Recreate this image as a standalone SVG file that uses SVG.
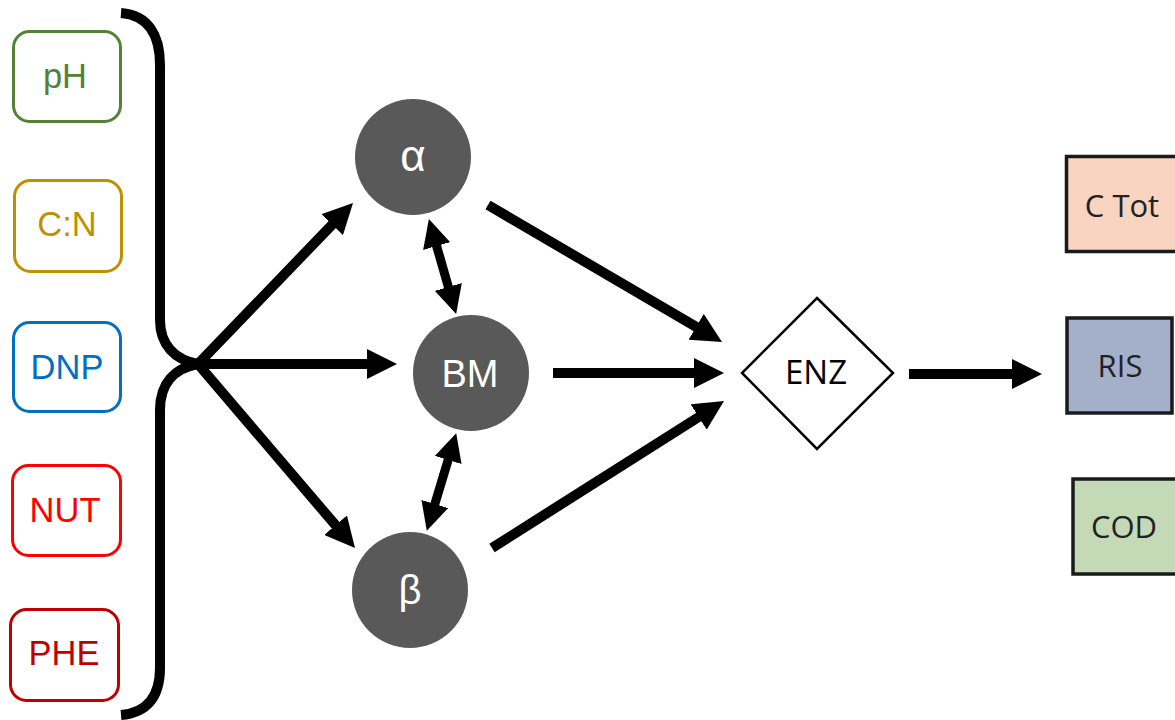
<svg xmlns="http://www.w3.org/2000/svg" width="1175" height="720" viewBox="0 0 1175 720">
<style>
.box{fill:#fff;stroke-width:3}
.lt{font-family:"Liberation Sans",Arial,sans-serif;font-size:34.5px;text-anchor:middle}
.circ{fill:#595959}
.ct{font-family:"Liberation Sans",Arial,sans-serif;fill:#fff;text-anchor:middle}
.rbox{stroke:#1a1a1a;stroke-width:3.5}
.rt{font-family:"Open Sans",sans-serif;font-size:31px;fill:#222;text-anchor:middle}
.conn{stroke:#000;stroke-width:10;fill:none}
.dbl{stroke:#000;stroke-width:9;fill:none}
</style>
<defs>
<marker id="ah" markerUnits="userSpaceOnUse" viewBox="0 0 30 30" markerWidth="30" markerHeight="30" refX="12" refY="15" orient="auto">
<path d="M0,0 L30,15 L0,30 z" fill="#000"/>
</marker>
<marker id="ah2" markerUnits="userSpaceOnUse" viewBox="0 0 28 28" markerWidth="28" markerHeight="28" refX="12" refY="14" orient="auto-start-reverse">
<path d="M0,0 L28,14 L0,28 z" fill="#000"/>
</marker>
</defs>

<g id="brace">
<path d="M121,13 C148,15 160,35 160,65 L160,320 C160,345 175,360 198,364 C175,368 160,383 160,410 L160,668 C160,698 146,713 121,715" fill="none" stroke="#000" stroke-width="10"/>
</g>

<g id="node-pH">
<rect class="box" x="13.5" y="31.5" width="107" height="90" rx="16" stroke="#548235"/>
<text class="lt" x="65" y="88" fill="#548235">pH</text>
</g>
<g id="node-CN">
<rect class="box" x="14.5" y="180.5" width="107" height="91" rx="16" stroke="#bf9000"/>
<text class="lt" x="67" y="236" fill="#bf9000">C:N</text>
</g>
<g id="node-DNP">
<rect class="box" x="13.5" y="322.5" width="107" height="89" rx="16" stroke="#0070c0"/>
<text class="lt" x="67" y="379" fill="#0070c0">DNP</text>
</g>
<g id="node-NUT">
<rect class="box" x="12.5" y="465.5" width="108" height="90" rx="16" stroke="#ff0000"/>
<text class="lt" x="65" y="522" fill="#ff0000">NUT</text>
</g>
<g id="node-PHE">
<rect class="box" x="10.5" y="609.5" width="108" height="91" rx="16" stroke="#c00000"/>
<text class="lt" x="64" y="665" fill="#c00000">PHE</text>
</g>

<g id="node-alpha">
<circle class="circ" cx="413" cy="157" r="58"/>
<text class="ct" x="413" y="171" font-size="44">α</text>
</g>
<g id="node-BM">
<circle class="circ" cx="471" cy="373" r="58"/>
<text class="ct" x="470" y="387" font-size="38">BM</text>
</g>
<g id="node-beta">
<circle class="circ" cx="410" cy="590" r="58"/>
<text class="ct" x="410" y="604" font-size="40">β</text>
</g>

<g id="node-ENZ">
<polygon points="817,298 893,373 817,449 742,373" fill="#fff" stroke="#000" stroke-width="2.5"/>
<text x="816" y="384" font-family="'Open Sans',sans-serif" font-size="33" fill="#000" text-anchor="middle">ENZ</text>
</g>

<g id="node-CTot">
<rect class="rbox" x="1066.5" y="156.5" width="120" height="95" fill="#f8d4c1"/>
<text class="rt" x="1122" y="217">C Tot</text>
</g>
<g id="node-RIS">
<rect class="rbox" x="1067" y="318" width="105" height="95" fill="#a4afc9"/>
<text class="rt" x="1120" y="377">RIS</text>
</g>
<g id="node-COD">
<rect class="rbox" x="1073" y="479" width="115" height="95" fill="#c4dab7"/>
<text class="rt" x="1124" y="538">COD</text>
</g>

<g id="connectors">
<line class="conn" x1="198" y1="364" x2="340.5" y2="216" marker-end="url(#ah)"/>
<line class="conn" x1="198" y1="364" x2="379" y2="364" marker-end="url(#ah)"/>
<line class="conn" x1="198" y1="364" x2="343.3" y2="534.3" marker-end="url(#ah)"/>
<line class="conn" x1="488" y1="205" x2="706.5" y2="332.9" marker-end="url(#ah)"/>
<line class="conn" x1="553" y1="373" x2="706" y2="373" marker-end="url(#ah)"/>
<line class="conn" x1="492" y1="548" x2="708.8" y2="410.6" marker-end="url(#ah)"/>
<line class="conn" x1="909" y1="374" x2="1024" y2="374" marker-end="url(#ah)"/>
<line class="dbl" x1="433.3" y1="234.5" x2="451.7" y2="298.5" marker-start="url(#ah2)" marker-end="url(#ah2)"/>
<line class="dbl" x1="451.6" y1="448.5" x2="431.4" y2="515.5" marker-start="url(#ah2)" marker-end="url(#ah2)"/>
</g>
</svg>
